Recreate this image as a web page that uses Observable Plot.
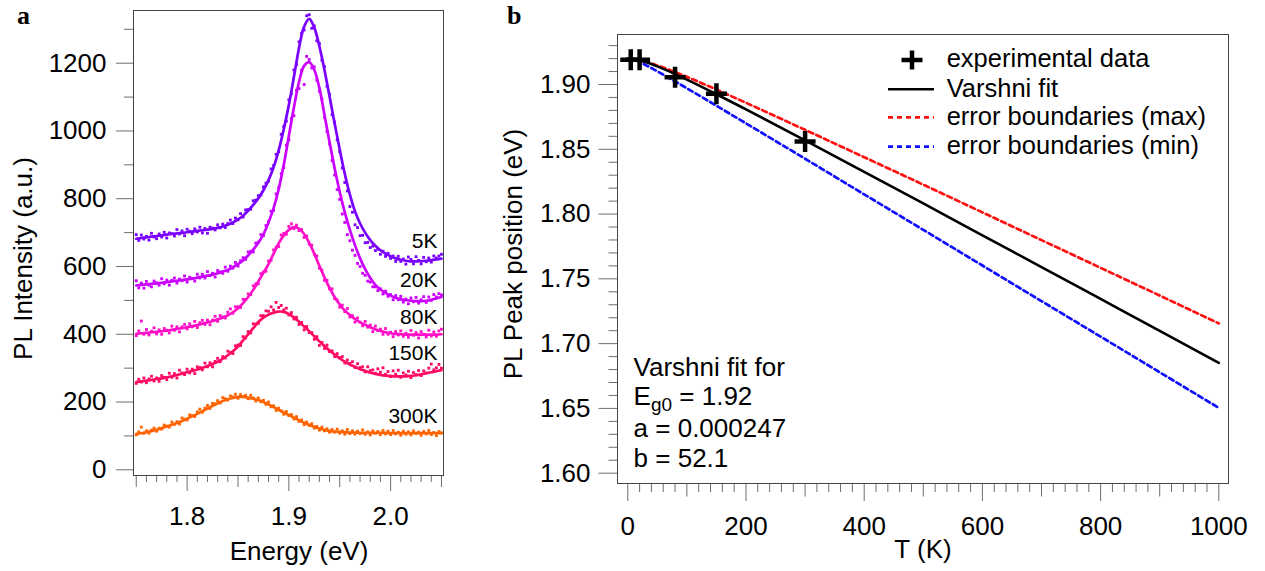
<!DOCTYPE html>
<html><head><meta charset="utf-8">
<script src="https://cdn.jsdelivr.net/npm/d3@7"></script>
<script src="https://cdn.jsdelivr.net/npm/@observablehq/plot@0.6"></script>
<style>
html,body{margin:0;padding:0;background:#fff;}
#wrap{position:relative;width:1265px;height:571px;overflow:hidden;background:#fff;}
</style></head><body><div id="wrap"></div>
<script>
// ---------- Panel a : PL spectra ----------
const temps = ["5K", "20K", "80K", "150K", "300K"];
const colors = ["#7a00ff", "#cc00ff", "#ff10c8", "#ff0a64", "#ff6400"];

// fitted curves, sampled every 0.005 eV from 1.750 to 2.050 eV
const line5K = [682,684,686,688,690,692,694,696,698,699,701,703,705,707,709,711,714,718,723,730,739,750,765,782,801,825,855,893,943,1005,1077,1160,1245,1308,1331,1305,1250,1180,1102,1022,945,873,812,763,727,700,678,661,648,638,630,624,620,617,615,615,616,617,619,621,623];
const line20K = [544,546,547,549,550,552,554,556,558,560,562,564,567,570,573,576,580,585,590,598,607,618,633,650,670,695,730,772,828,900,985,1070,1145,1192,1203,1180,1127,1048,967,890,820,760,708,663,624,592,566,546,532,522,514,508,503,501,499,498,498,499,502,506,510];
const line80K = [401,403,404,406,407,409,411,413,416,418,421,424,427,431,435,439,444,449,456,465,477,492,510,531,556,581,607,638,668,692,708,716,712,696,670,638,602,568,537,510,488,470,457,445,435,428,421,415,410,406,403,401,400,399,399,399,399,399,399,399,400];
const line150K = [259,261,263,265,268,270,273,276,280,284,288,292,296,301,306,312,319,328,338,350,364,382,400,418,436,449,458,464,467,466,460,450,437,423,409,394,379,365,352,340,329,319,311,304,297,292,287,283,280,278,277,276,276,276,277,279,282,285,288,291,294];
const line300K = [106,108,111,114,118,123,128,133,138,144,151,158,165,173,181,189,196,203,208,212,215,215,213,210,206,200,193,185,177,169,162,154,146,139,133,127,122,118,115,113,112,111,110,110,109,109,109,109,109,109,108,108,108,108,108,108,108,108,108,108,108];

// measured points, every 0.0025 eV from 1.750 to 2.050 eV
const dots5K = [694,677,693,681,689,678,698,687,682,696,687,701,684,699,697,690,709,696,705,691,710,704,697,711,702,716,699,712,698,716,713,708,723,714,725,715,727,737,727,743,738,756,746,767,768,769,794,796,809,811,835,846,852,888,898,931,939,990,1013,1029,1092,1110,1180,1196,1263,1288,1298,1340,1343,1303,1310,1266,1258,1209,1190,1132,1108,1048,1026,974,939,891,848,823,777,760,723,715,691,692,670,671,656,660,647,651,636,645,630,639,624,631,615,630,615,622,607,628,621,608,629,618,608,627,614,625,613,631,625,631,636];
const dots20K = [558,537,551,536,556,545,540,557,552,545,564,549,560,545,559,566,551,563,558,572,554,568,565,557,577,566,577,566,585,573,580,569,588,584,580,598,586,601,595,612,601,617,626,621,643,645,643,669,672,694,691,721,733,763,766,814,833,874,892,958,973,1037,1045,1120,1125,1179,1137,1220,1211,1186,1189,1150,1117,1094,1040,998,962,913,870,827,798,755,730,694,676,648,633,609,600,580,574,557,554,540,540,529,534,519,527,512,517,502,514,502,512,495,504,490,507,496,509,492,502,511,494,510,500,517,510,520,516];
const dots80K = [396,410,439,400,414,398,409,419,401,413,400,417,412,404,424,412,422,407,422,429,416,431,422,438,420,434,441,429,442,428,442,453,438,455,451,448,465,475,462,481,481,479,503,503,519,517,543,549,549,579,584,586,616,618,649,657,659,693,698,695,718,726,712,722,706,709,686,690,666,663,636,631,595,589,559,559,534,534,505,501,480,486,467,476,451,455,436,448,436,425,438,421,427,408,424,411,415,400,417,400,406,393,408,398,410,394,403,391,411,397,405,389,408,400,392,412,395,407,394,410,415];
const dots150K = [255,267,259,271,257,268,276,262,271,261,278,273,266,285,273,284,271,294,286,281,297,286,297,284,304,302,295,315,304,316,304,320,329,319,334,330,350,346,343,366,368,367,393,389,408,404,431,430,432,455,455,469,468,481,472,494,479,485,472,477,457,464,445,450,429,435,413,423,405,405,385,393,367,376,358,368,349,351,334,343,331,334,315,324,314,319,302,313,302,304,289,304,293,295,285,298,288,301,282,290,275,292,282,294,273,286,280,291,272,287,281,293,278,292,286,300,312,295,301,311,300];
const dots300K = [103,112,126,108,115,108,117,123,114,123,120,132,129,126,141,134,142,135,153,149,147,162,160,157,171,179,170,182,190,181,196,195,204,197,213,210,206,218,215,223,211,222,216,220,210,220,212,203,212,201,205,193,200,186,189,175,182,174,164,172,160,163,150,157,143,147,133,141,131,136,123,128,117,126,115,121,111,119,111,120,108,115,105,119,107,115,105,114,107,118,105,112,103,115,108,113,104,116,106,114,104,116,106,111,102,114,105,112,103,115,107,111,102,113,106,116,104,110,101,113,109];

const intensityTicks = [0, 200, 400, 600, 800, 1000, 1200];
const intensityMinorTicks = [100, 300, 500, 700, 900, 1100, 1300];
const energyTicks = [1.8, 1.9, 2.0];
const energyMidTicks = [1.75, 1.85, 1.95, 2.05];
const energyMinorTicks = [1.76,1.77,1.78,1.79,1.81,1.82,1.83,1.84,1.86,1.87,1.88,1.89,1.91,1.92,1.93,1.94,1.96,1.97,1.98,1.99,2.01,2.02,2.03,2.04];

// ---------- Panel b : Varshni fit ----------
const expT = [5, 20, 80, 150, 300];
const expE = [1.9191, 1.9191, 1.9056, 1.8928, 1.856];
const fitT = [0, 10, 20, 30, 50, 75, 100, 150, 200, 300, 400, 500, 600, 700, 800, 900, 1000];
const fitE = [1.92, 1.9196, 1.9186, 1.9173, 1.9140, 1.9091, 1.9038, 1.8925, 1.8808, 1.8569, 1.8326, 1.8082, 1.7836, 1.7591, 1.7345, 1.7099, 1.6852];
const maxE = [1.92, 1.91965, 1.9188, 1.91764, 1.9147, 1.9105, 1.9059, 1.8961, 1.8859, 1.8650, 1.8439, 1.8227, 1.8013, 1.7799, 1.7585, 1.7371, 1.7156];
const minE = [1.92, 1.9191, 1.9173, 1.9151, 1.9102, 1.9037, 1.8971, 1.8836, 1.8700, 1.8427, 1.8152, 1.7878, 1.7603, 1.7328, 1.7054, 1.6779, 1.6504];

const tempTicks = [0, 200, 400, 600, 800, 1000];
const tempMidTicks = [100, 300, 500, 700, 900];
const tempMinorTicks = [20,40,60,80,120,140,160,180,220,240,260,280,320,340,360,380,420,440,460,480,520,540,560,580,620,640,660,680,720,740,760,780,820,840,860,880,920,940,960,980];
const peakTicks = [1.60, 1.65, 1.70, 1.75, 1.80, 1.85, 1.90];
const peakMinorTicks = [1.61,1.62,1.63,1.64,1.66,1.67,1.68,1.69,1.71,1.72,1.73,1.74,1.76,1.77,1.78,1.79,1.81,1.82,1.83,1.84,1.86,1.87,1.88,1.89,1.91,1.92,1.93];

// ---------- build tables ----------
const lineEnergy = d3.range(61).map(i => +(1.75 + i * 0.005).toFixed(4));
const dotEnergy = d3.range(121).map(i => +(1.75 + i * 0.0025).toFixed(5));
const lines = [line5K, line20K, line80K, line150K, line300K];
const dots = [dots5K, dots20K, dots80K, dots150K, dots300K];
const lineRows = temps.flatMap((t, k) => lines[k].map((v, i) => ({label: t, e: lineEnergy[i], v})));
const dotRows = temps.flatMap((t, k) => dots[k].map((v, i) => ({label: t, e: dotEnergy[i], v})));
const labelRows = temps.map((t, k) => ({label: t, e: lineEnergy[60], v: lines[k][60]}));

const expRows = expT.map((t, i) => ({t, e: expE[i]}));
const fitRows = fitT.map((t, i) => ({t, fit: fitE[i], max: maxE[i], min: minE[i]}));

const FONT = '"Liberation Sans", Arial, Helvetica, sans-serif';
const tickColor = "#6e6e6e";
const baseStyle = {fontFamily: FONT, fontSize: "26px", background: "transparent", overflow: "visible", color: "black"};
const intFmt = d3.format("d");

const plusSymbol = {
  draw(ctx, size) {
    const r = Math.sqrt(size / Math.PI);
    ctx.moveTo(-r, 0); ctx.lineTo(r, 0);
    ctx.moveTo(0, -r); ctx.lineTo(0, r);
  }
};

const panelA = Plot.plot({
  width: 460, height: 571,
  marginLeft: 133, marginRight: 17, marginTop: 10, marginBottom: 96,
  x: {domain: [1.7473, 2.0520], label: null},
  y: {domain: [-16.8, 1355.5], label: null},
  color: {domain: temps, range: colors},
  style: baseStyle,
  marks: [
    Plot.axisY(intensityTicks, {tickSize: 17, tickPadding: 10, tickFormat: intFmt, label: null, stroke: tickColor, fill: "black"}),
    Plot.axisY(intensityMinorTicks, {tickSize: 9, label: null, stroke: tickColor, fill: "none"}),
    Plot.axisX(energyTicks, {tickSize: 16, tickPadding: 15, tickFormat: d3.format(".1f"), label: null, stroke: tickColor, fill: "black"}),
    Plot.axisX(energyMidTicks, {tickSize: 12, label: null, stroke: tickColor, fill: "none"}),
    Plot.axisX(energyMinorTicks, {tickSize: 7, label: null, stroke: tickColor, fill: "none"}),
    Plot.dot(dotRows, {x: "e", y: "v", fill: "label", symbol: "square", r: 1.6}),
    Plot.line(lineRows, {x: "e", y: "v", z: "label", stroke: "label", strokeWidth: 2.7, curve: "catmull-rom"}),
    Plot.text(labelRows, {x: "e", y: "v", text: "label", textAnchor: "end", dx: -4, dy: -17, fontSize: 21, fill: "black"}),
    Plot.frame({stroke: "#444"})
  ]
});

const panelB = Plot.plot({
  width: 805, height: 571,
  marginLeft: 157, marginRight: 37, marginTop: 34, marginBottom: 88,
  x: {domain: [-17.4, 1016.4], label: null},
  y: {domain: [1.59205, 1.93859], label: null},
  style: baseStyle,
  marks: [
    Plot.axisY(peakTicks, {tickSize: 18.5, tickPadding: 8.5, tickFormat: d3.format(".2f"), label: null, stroke: tickColor, fill: "black"}),
    Plot.axisY(peakMinorTicks, {tickSize: 8.5, label: null, stroke: tickColor, fill: "none"}),
    Plot.axisX(tempTicks, {tickSize: 18, tickPadding: 15, tickFormat: intFmt, label: null, stroke: tickColor, fill: "black"}),
    Plot.axisX(tempMidTicks, {tickSize: 13.5, label: null, stroke: tickColor, fill: "none"}),
    Plot.axisX(tempMinorTicks, {tickSize: 9, label: null, stroke: tickColor, fill: "none"}),
    Plot.line(fitRows, {x: "t", y: "max", stroke: "#ff1010", strokeWidth: 2.7, strokeDasharray: "5,3.5", curve: "monotone-x"}),
    Plot.line(fitRows, {x: "t", y: "min", stroke: "#1010ff", strokeWidth: 2.7, strokeDasharray: "5,3.5", curve: "monotone-x"}),
    Plot.line(fitRows, {x: "t", y: "fit", stroke: "black", strokeWidth: 2.6, curve: "monotone-x"}),
    Plot.dot(expRows, {x: "t", y: "e", symbol: plusSymbol, r: 10.5, stroke: "black", fill: "none", strokeWidth: 4.5}),
    Plot.frame({stroke: "#444"})
  ]
});

const wrap = document.getElementById("wrap");
panelA.style.position = "absolute"; panelA.style.left = "0px"; panelA.style.top = "0px";
panelB.style.position = "absolute"; panelB.style.left = "460px"; panelB.style.top = "0px";
wrap.appendChild(panelA);
wrap.appendChild(panelB);

// titles, legend and annotation text
const NS = "http://www.w3.org/2000/svg";
const overlay = document.createElementNS(NS, "svg");
overlay.setAttribute("width", 1265); overlay.setAttribute("height", 571);
overlay.style.position = "absolute"; overlay.style.left = "0px"; overlay.style.top = "0px";
overlay.style.pointerEvents = "none";
overlay.setAttribute("font-family", FONT);
overlay.innerHTML = `
  <text x="17" y="24" font-family="'Liberation Serif', 'Times New Roman', serif" font-weight="bold" font-size="26">a</text>
  <text x="507" y="24" font-family="'Liberation Serif', 'Times New Roman', serif" font-weight="bold" font-size="26">b</text>
  <text transform="translate(32,258.5) rotate(-90)" text-anchor="middle" font-size="26">PL Intensity (a.u.)</text>
  <text x="299" y="560" text-anchor="middle" font-size="26">Energy (eV)</text>
  <text transform="translate(522,254) rotate(-90)" text-anchor="middle" font-size="26">PL Peak position (eV)</text>
  <text x="923" y="558" text-anchor="middle" font-size="26">T (K)</text>
  <path d="M901.5,60H922.5M912,50.5V69.5" stroke="black" stroke-width="4.5" fill="none"/>
  <line x1="888" x2="934" y1="89.3" y2="89.3" stroke="black" stroke-width="2.6"/>
  <line x1="888" x2="934" y1="117.3" y2="117.3" stroke="#ff1010" stroke-width="2.7" stroke-dasharray="5,4"/>
  <line x1="888" x2="934" y1="146.7" y2="146.7" stroke="#1010ff" stroke-width="2.7" stroke-dasharray="5,4"/>
  <text x="946.7" y="66.7" font-size="25.5">experimental data</text>
  <text x="946.7" y="96.7" font-size="25.5">Varshni fit</text>
  <text x="946.7" y="125" font-size="25.5">error boundaries (max)</text>
  <text x="946.7" y="154" font-size="25.5">error boundaries (min)</text>
  <text x="633.6" y="376" font-size="26">Varshni fit for</text>
  <text x="633.6" y="405" font-size="26">E<tspan font-size="19" dy="6">g0</tspan><tspan dy="-6"> = 1.92</tspan></text>
  <text x="633.6" y="437" font-size="26">a = 0.000247</text>
  <text x="633.6" y="466.7" font-size="26">b = 52.1</text>
`;
wrap.appendChild(overlay);
</script></body></html>
